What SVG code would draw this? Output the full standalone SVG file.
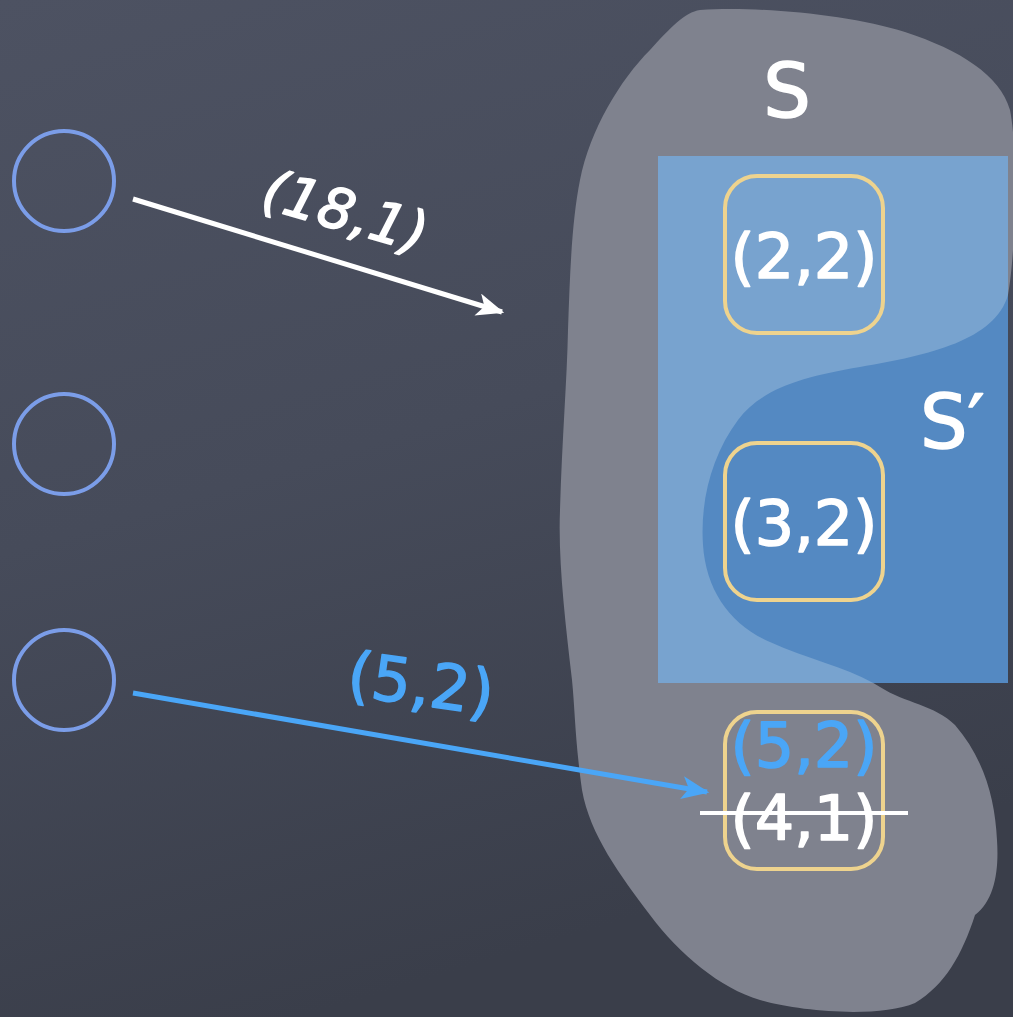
<svg xmlns="http://www.w3.org/2000/svg" width="1013" height="1017" viewBox="0 0 1013 1017">
  <defs>
    <linearGradient id="bg" x1="0" y1="0" x2="0.3" y2="1">
      <stop offset="0" stop-color="#4d5262"/>
      <stop offset="0.5" stop-color="#464b5a"/>
      <stop offset="1" stop-color="#3a3e4a"/>
    </linearGradient>
    <path id="blobShape" d="M700,10 C760,6 850,15 905,32 C960,50 1000,75 1010,110 C1018,150 1016,250 1008,295 C995,340 930,355 860,367 C800,377 760,390 738,420 C712,455 700,500 703,545 C706,590 730,625 770,642 C810,660 850,668 880,687 C905,703 935,705 955,725 C985,760 995,800 997,840 C999,870 995,900 975,915 C962,955 945,985 915,1003 C880,1018 800,1012 760,1000 C720,988 680,955 650,915 C620,875 590,835 582,790 C575,740 575,710 572,680 C565,620 558,560 560,510 C562,440 567,380 568,330 C570,270 572,220 580,180 C590,130 620,80 650,50 C670,28 685,12 700,10 Z"/>
    <clipPath id="rectClip"><rect x="658" y="156" width="350" height="527"/></clipPath>
    <marker id="arrowW" viewBox="0 0 12 10" refX="11" refY="5" markerWidth="5.6" markerHeight="4.6" orient="auto" markerUnits="strokeWidth">
      <path d="M0,0 L12,5 L0,10 L3,5 Z" fill="#ffffff"/>
    </marker>
    <marker id="arrowB" viewBox="0 0 12 10" refX="11" refY="5" markerWidth="5.6" markerHeight="4.6" orient="auto" markerUnits="strokeWidth">
      <path d="M0,0 L12,5 L0,10 L3,5 Z" fill="#4aa6f7"/>
    </marker>
  </defs>
  <style>
    .txt { font-family: "DejaVu Sans", "Noto Sans", sans-serif; fill: #ffffff; stroke: #ffffff; stroke-width: 1.5; stroke-linejoin: round; }
    .blue { fill: #4aa6f7; stroke: #4aa6f7; }
    .src { fill: none; stroke: #7b9de8; stroke-width: 4; }
    .box { fill: none; stroke: #eed38e; stroke-width: 4; }
  </style>

  <rect x="0" y="0" width="1013" height="1017" fill="url(#bg)"/>

  <g id="set-S">
    <use href="#blobShape" fill="#7f828e"/>
    <rect x="658" y="156" width="350" height="527" fill="#5489c2"/>
    <g clip-path="url(#rectClip)">
      <use href="#blobShape" fill="#78a3cf"/>
    </g>
    <text class="txt" x="787" y="117" font-size="75" text-anchor="middle">S</text>
    <text class="txt" x="920" y="448" font-size="75">S′</text>
  </g>

  <g id="src1"><circle class="src" cx="64" cy="181" r="50"/></g>
  <g id="src2"><circle class="src" cx="64" cy="444" r="50"/></g>
  <g id="src3"><circle class="src" cx="64" cy="680" r="50"/></g>

  <g id="node-2-2">
    <rect class="box" x="725" y="176" width="158" height="157" rx="32"/>
    <text class="txt" x="804" y="278" font-size="62" text-anchor="middle">(2,2)</text>
  </g>
  <g id="node-3-2">
    <rect class="box" x="725" y="443" width="158" height="157" rx="32"/>
    <text class="txt" x="804" y="545" font-size="62" text-anchor="middle">(3,2)</text>
  </g>
  <g id="node-4-1">
    <rect class="box" x="725" y="712" width="158" height="157" rx="32"/>
    <text class="txt blue" x="804" y="767" font-size="62" text-anchor="middle">(5,2)</text>
    <text class="txt" x="804" y="840" font-size="62" text-anchor="middle">(4,1)</text>
    <line x1="700" y1="813" x2="908" y2="813" stroke="#ffffff" stroke-width="4"/>
  </g>

  <g id="connectors">
    <line x1="133" y1="199" x2="502" y2="312" stroke="#ffffff" stroke-width="5" marker-end="url(#arrowW)"/>
    <text class="txt" x="0" y="0" font-size="56" font-style="italic" text-anchor="middle" transform="translate(340,230) rotate(16)">(18,1)</text>
    <line x1="133" y1="693" x2="707" y2="792" stroke="#4aa6f7" stroke-width="5" marker-end="url(#arrowB)"/>
    <text class="txt blue" x="0" y="0" font-size="62" text-anchor="middle" transform="translate(418,705) rotate(8)">(5,2)</text>
  </g>
</svg>
